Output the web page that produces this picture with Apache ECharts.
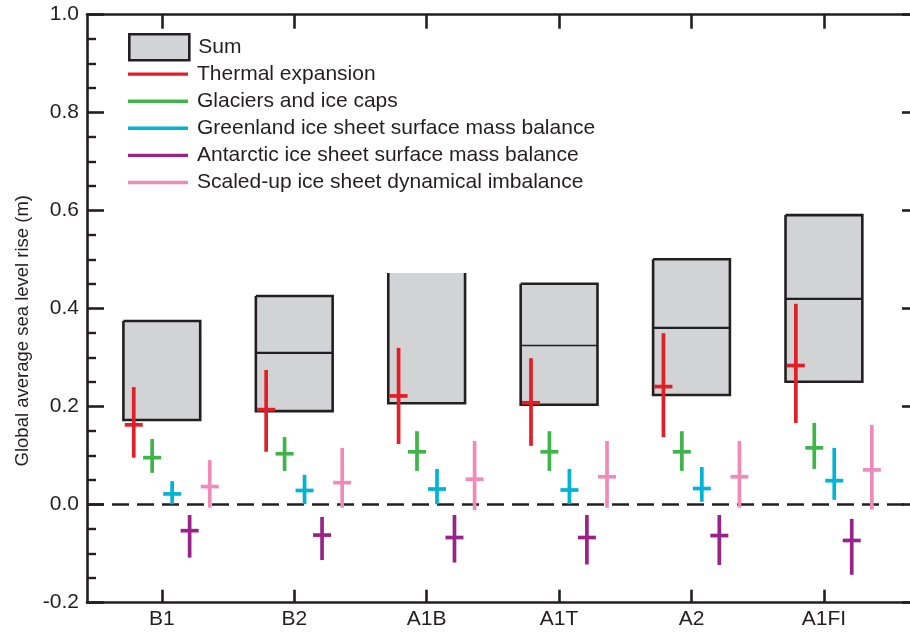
<!DOCTYPE html>
<html>
<head>
<meta charset="utf-8">
<script src="https://cdn.jsdelivr.net/npm/echarts@6/dist/echarts.min.js"></script>
<style>
html,body{margin:0;padding:0;background:#fff}
#container{width:910px;height:633px}
</style>
</head>
<body>
<div id="container"></div>
<script>
// scenarios on the x axis
var scenarios = ['B1', 'B2', 'A1B', 'A1T', 'A2', 'A1FI'];
var yTicks = [-0.2, 0.0, 0.2, 0.4, 0.6, 0.8, 1.0];

// sum range per scenario (low, middle, high); '-' = no middle line drawn
var sumLow  = [0.173, 0.191, 0.207, 0.204, 0.224, 0.251];
var sumMid  = ['-',   0.310, '-',   0.325, 0.361, 0.420];
var sumHigh = [0.375, 0.426, 0.473, 0.451, 0.501, 0.591];

// contributions: [low, central, high] per scenario
var thermal = [[0.096,0.163,0.240],[0.108,0.194,0.275],[0.124,0.222,0.320],[0.120,0.208,0.299],[0.138,0.241,0.350],[0.167,0.284,0.410]];
var glaciers = [[0.065,0.096,0.134],[0.069,0.104,0.138],[0.069,0.108,0.150],[0.069,0.108,0.150],[0.069,0.108,0.150],[0.073,0.116,0.167]];
var greenland = [[0.001,0.022,0.048],[0.001,0.029,0.061],[0.001,0.032,0.073],[0.001,0.030,0.073],[0.006,0.033,0.077],[0.010,0.049,0.116]];
var antarctic = [[-0.108,-0.053,-0.021],[-0.113,-0.062,-0.025],[-0.118,-0.067,-0.021],[-0.122,-0.067,-0.021],[-0.123,-0.063,-0.021],[-0.143,-0.073,-0.029]];
var dynamical = [[-0.006,0.037,0.091],[-0.006,0.045,0.116],[-0.011,0.052,0.130],[-0.006,0.057,0.130],[-0.006,0.057,0.130],[-0.010,0.071,0.163]];

var names = ['Sum', 'Thermal expansion', 'Glaciers and ice caps',
  'Greenland ice sheet surface mass balance',
  'Antarctic ice sheet surface mass balance',
  'Scaled-up ice sheet dynamical imbalance'];

var INK = '#231f20';
var FONT = 'Liberation Sans, Arial, Helvetica, sans-serif';
var BOX_HALF = 0.29;
var openTop = {A1B: true};
var thinMedian = {A1T: true};

var dom = document.querySelector('#container');
var myChart = echarts.init(dom);

var boxData = scenarios.map(function (s, i) {
  return [i, sumLow[i], sumMid[i], sumHigh[i]];
});

var renderBox = function (params, api) {
  var i = api.value(0);
  var lo = api.value(1), mid = api.value(2), hi = api.value(3);
  var tl = api.coord([i - BOX_HALF, hi]);
  var br = api.coord([i + BOX_HALF, lo]);
  var kids = [{
    type: 'rect',
    shape: {x: tl[0], y: tl[1], width: br[0] - tl[0], height: br[1] - tl[1]},
    style: {fill: '#d1d3d4'}
  }];
  var pts = openTop[scenarios[i]]
    ? [[tl[0], tl[1]], [tl[0], br[1]], [br[0], br[1]], [br[0], tl[1]]]
    : [[tl[0], tl[1]], [tl[0], br[1]], [br[0], br[1]], [br[0], tl[1]], [tl[0], tl[1]]];
  kids.push({
    type: 'polyline',
    shape: {points: pts},
    style: {stroke: INK, lineWidth: 2.6, fill: null, lineJoin: 'miter'}
  });
  if (!isNaN(mid)) {
    var m = api.coord([i, mid]);
    kids.push({
      type: 'line',
      shape: {x1: tl[0], y1: m[1], x2: br[0], y2: m[1]},
      style: {stroke: INK, lineWidth: thinMedian[scenarios[i]] ? 1.4 : 2.2}
    });
  }
  return {type: 'group', children: kids};
};

var makeCross = function (offset, color, width) {
  return function (params, api) {
    var x = api.value(0) + offset;
    var top = api.coord([x, api.value(3)]);
    var bot = api.coord([x, api.value(1)]);
    var c = api.coord([x, api.value(2)]);
    return {
      type: 'group',
      children: [{
        type: 'line',
        shape: {x1: top[0], y1: top[1], x2: bot[0], y2: bot[1]},
        style: {stroke: color, lineWidth: width}
      }, {
        type: 'line',
        shape: {x1: c[0] - 9, y1: c[1], x2: c[0] + 9, y2: c[1]},
        style: {stroke: color, lineWidth: width}
      }]
    };
  };
};

var crossSeries = function (name, arr, offset, color) {
  return {
    name: name,
    type: 'custom',
    z: 4,
    silent: true,
    itemStyle: {color: color},
    data: arr.map(function (d, i) { return [i, d[0], d[1], d[2]]; }),
    renderItem: makeCross(offset, color, 3.7)
  };
};

var catIdx = scenarios.map(function (s, i) { return i; });

var option = {
  animation: false,
  grid: {left: 87, right: 0, top: 14.7, bottom: 30.3},
  legend: [{
    data: ['Sum'],
    left: 128, top: 33, padding: 0,
    itemWidth: 60, itemHeight: 26, icon: 'rect',
    selectedMode: false,
    itemStyle: {color: '#d1d3d4', borderColor: INK, borderWidth: 2.6},
    textStyle: {fontFamily: FONT, fontSize: 21, color: INK, padding: [0, 0, 0, 4]}
  }, {
    data: names.slice(1),
    orient: 'vertical',
    left: 128, top: 63.6, padding: 0,
    itemWidth: 60, itemHeight: 3.4, itemGap: 6.1, icon: 'rect',
    selectedMode: false,
    itemStyle: {borderWidth: 0},
    textStyle: {fontFamily: FONT, fontSize: 21, color: INK, padding: [0, 0, 0, 4]}
  }],
  xAxis: [{
    type: 'value', position: 'bottom',
    min: -0.565, max: 5.65,
    axisLine: {show: true, onZero: false, lineStyle: {color: INK, width: 2.6}},
    axisTick: {show: true, inside: true, length: 13, customValues: catIdx, lineStyle: {color: INK, width: 2.6}},
    axisLabel: {
      customValues: catIdx, margin: 6,
      fontFamily: FONT, fontSize: 21, color: INK,
      formatter: function (v) { return scenarios[Math.round(v)]; }
    },
    splitLine: {show: false}
  }, {
    type: 'value', position: 'top',
    min: -0.565, max: 5.65,
    axisLine: {show: true, onZero: false, lineStyle: {color: INK, width: 2.6}},
    axisTick: {show: true, inside: true, length: 14, customValues: catIdx, lineStyle: {color: INK, width: 2.6}},
    axisLabel: {show: false},
    splitLine: {show: false}
  }],
  yAxis: [{
    type: 'value', position: 'left',
    min: -0.2, max: 1.0, interval: 0.2,
    name: 'Global average sea level rise (m)',
    nameLocation: 'middle', nameGap: 54,
    nameTextStyle: {fontFamily: FONT, fontSize: 18.5, color: INK, padding: [0, 44, 0, 0]},
    axisLine: {show: true, onZero: false, lineStyle: {color: INK, width: 2.6}},
    axisTick: {show: true, inside: true, length: 17, lineStyle: {color: INK, width: 2.6}},
    minorTick: {show: true, splitNumber: 4, length: 9, lineStyle: {color: INK, width: 2.4}},
    axisLabel: {
      margin: 8, fontFamily: FONT, fontSize: 21, color: INK,
      formatter: function (v) { return v.toFixed(1); }
    },
    splitLine: {show: false}
  }, {
    type: 'value', position: 'right',
    min: -0.2, max: 1.0, interval: 0.2,
    axisLine: {show: false, onZero: false},
    axisTick: {show: true, inside: true, length: 8, lineStyle: {color: INK, width: 2.6}},
    axisLabel: {show: false},
    splitLine: {show: false}
  }],
  series: [{
    name: 'Sum',
    type: 'custom',
    z: 2,
    silent: true,
    itemStyle: {color: '#d1d3d4'},
    data: boxData,
    renderItem: renderBox,
    markLine: {
      silent: true,
      symbol: ['none', 'none'],
      z: 1,
      label: {show: false},
      lineStyle: {color: INK, width: 2.6, type: [17, 8]},
      data: [{yAxis: 0}]
    }
  },
  crossSeries(names[1], thermal, -0.212, '#e21f26'),
  crossSeries(names[2], glaciers, -0.073, '#3fb549'),
  crossSeries(names[3], greenland, 0.078, '#00b4d6'),
  crossSeries(names[4], antarctic, 0.210, '#9a2389'),
  crossSeries(names[5], dynamical, 0.362, '#f08bb9')]
};

myChart.setOption(option);
</script>
</body>
</html>
